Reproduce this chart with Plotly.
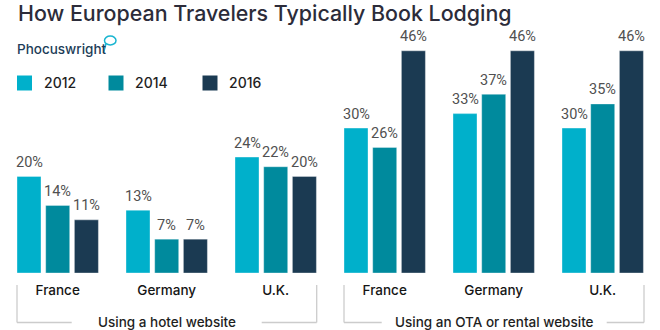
import plotly.graph_objects as go

# ---- data ----
categories = ["France", "Germany", "U.K.", "France", "Germany", "U.K."]
group_labels = ["Using a hotel website", "Using an OTA or rental website"]
years = ["2012", "2014", "2016"]
v2012 = [20, 13, 24, 30, 33, 30]
v2014 = [14, 7, 22, 26, 37, 35]
v2016 = [11, 7, 20, 46, 46, 46]
title_text = "How European Travelers Typically Book Lodging"
brand = "Phocuswright"

colors = ["#00B0CB", "#008A9D", "#1B3A52"]
series = [v2012, v2014, v2016]

W, H = 660, 330
ML, MR, MT, MB = 0, 0, 31, 57
PH = H - MT - MB
UNIT = 109.0           # px per group
X0 = 57.7              # px of group 0 center
BAR_W = 24 / UNIT
PITCH = 28.7 / UNIT
YMAX = PH / 4.83


def px(x):
    return x / W


def py(y):
    return (H - MB - y) / PH


xs = list(range(len(categories)))
fig = go.Figure()
for k, (yr, vals, c) in enumerate(zip(years, series, colors)):
    off = (k - 1) * PITCH - BAR_W / 2
    fig.add_trace(go.Bar(
        x=xs, y=vals, name=yr, width=BAR_W, offset=off,
        marker=dict(color=c, line=dict(color="rgba(255,255,255,0.35)", width=1)),
        showlegend=False, hoverinfo="skip",
    ))
    for i, v in enumerate(vals):
        fig.add_annotation(
            x=i + (k - 1) * PITCH, y=v, xref="x", yref="y",
            text=f"{v}%", showarrow=False, yanchor="middle", yshift=14,
            font=dict(family="Roboto", size=14.5, color="#505050"),
        )

annos = []
# title
annos.append(dict(x=px(15.5), y=py(13), xref="paper", yref="paper", text=title_text,
                  showarrow=False, xanchor="left", yanchor="middle",
                  font=dict(family="Inter", size=21.4, color="#2c2c3a", weight=500)))
# brand
annos.append(dict(x=px(15), y=py(48.5), xref="paper", yref="paper", text=brand,
                  showarrow=False, xanchor="left", yanchor="middle",
                  font=dict(family="Inter", size=13.5, color="#1D3D58", weight=500)))
# legend
leg_sq = [17, 108.5, 202.5]
leg_tx = [41.5, 133, 226.5]
shapes = []
for k, yr in enumerate(years):
    shapes.append(dict(type="rect", xref="paper", yref="paper",
                       x0=px(leg_sq[k]), x1=px(leg_sq[k] + 15), y0=py(75.5), y1=py(90.5),
                       fillcolor=colors[k], line=dict(width=0)))
    annos.append(dict(x=px(leg_tx[k]), y=py(83), xref="paper", yref="paper", text=yr,
                      showarrow=False, xanchor="left", yanchor="middle",
                      font=dict(family="Inter", size=14, color="#1e1e1e", weight=500)))

# bubble of logo
shapes.append(dict(type="circle", xref="paper", yref="paper",
                   x0=px(104.5), x1=px(116), y0=py(45), y1=py(36),
                   line=dict(color="#19B5D0", width=1.5)))
shapes.append(dict(type="line", xref="paper", yref="paper",
                   x0=px(103.5), x1=px(106), y0=py(53), y1=py(43.5),
                   line=dict(color="#19B5D0", width=1.5)))

# brackets
gl_col = "#cccccc"
brackets = [(17, 316.7, 71.7, 261.7), (344, 644, 381.7, 606.7)]
for gi, (l, r, a, b) in enumerate(brackets):
    for seg in [(l, l, 285, 322.5), (r, r, 285, 322.5)]:
        shapes.append(dict(type="line", xref="paper", yref="paper",
                           x0=px(seg[0]), x1=px(seg[1]), y0=py(seg[2]), y1=py(seg[3]),
                           line=dict(color=gl_col, width=1.3)))
    for seg in [(l, a), (b, r)]:
        shapes.append(dict(type="line", xref="paper", yref="paper",
                           x0=px(seg[0]), x1=px(seg[1]), y0=py(322.5), y1=py(322.5),
                           line=dict(color=gl_col, width=1.3)))
    annos.append(dict(x=px((a + b) / 2), y=py(321.5), xref="paper", yref="paper",
                      text=group_labels[gi], showarrow=False, xanchor="center", yanchor="middle",
                      font=dict(family="Inter", size=13.5, color="#1e1e1e", weight=500)))

for a in annos:
    fig.add_annotation(**a)

fig.update_layout(
    width=W, height=H, margin=dict(l=ML, r=MR, t=MT, b=MB),
    paper_bgcolor="white", plot_bgcolor="white",
    barmode="overlay", shapes=shapes, showlegend=False,
    xaxis=dict(range=[-X0 / UNIT, (W - X0) / UNIT], tickvals=xs, ticktext=categories,
               showgrid=False, zeroline=False, showline=False, ticks="",
               ticklabelstandoff=7,
               tickfont=dict(family="Inter", size=13.5, color="#151515", weight=500),
               fixedrange=True),
    yaxis=dict(range=[0, YMAX], visible=False, fixedrange=True),
)
fig.write_html("out.html", config={"displayModeBar": False})
